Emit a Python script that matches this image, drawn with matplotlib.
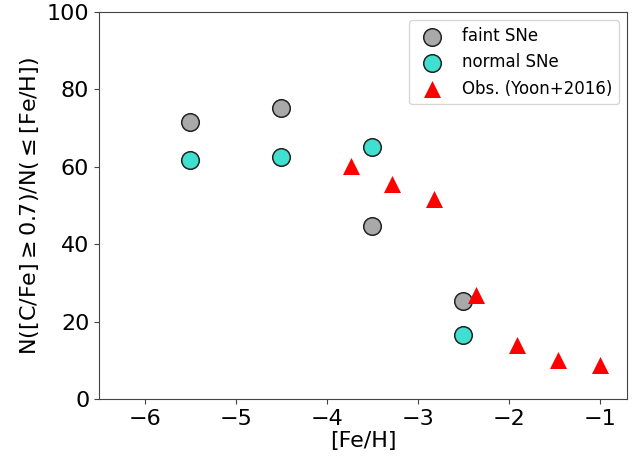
import matplotlib
matplotlib.use("Agg")
import matplotlib.pyplot as plt

# Model predictions at fixed metallicity bins
feh_model = [-5.5, -4.5, -3.5, -2.5]
frac_faint = [71.5, 75.2, 44.6, 25.3]
frac_normal = [61.8, 62.6, 65.0, 16.6]

# Observed cumulative CEMP fractions
feh_obs = [-3.73, -3.28, -2.82, -2.36, -1.91, -1.46, -1.0]
frac_obs = [60.2, 55.6, 51.6, 26.8, 13.9, 10.2, 8.7]

xticks = [-6, -5, -4, -3, -2, -1]
yticks = [0, 20, 40, 60, 80, 100]

fig = plt.figure(figsize=(6.38, 4.62), dpi=100)
ax = fig.add_axes([99 / 638, 1 - 399 / 462, (627.3 - 99) / 638, (399 - 12) / 462])

ax.scatter(feh_model, frac_faint, s=160, c="darkgray", edgecolors="#222222",
           linewidths=1.1, label="faint SNe", zorder=3)
ax.scatter(feh_model, frac_normal, s=160, c="turquoise", edgecolors="#222222",
           linewidths=1.1, label="normal SNe", zorder=3)
ax.scatter(feh_obs, frac_obs, s=150, c="red", marker="^", linewidths=0,
           label="Obs. (Yoon+2016)", zorder=4)

ax.set_xlim(-6.5, -0.7)
ax.set_ylim(0, 100)
ax.set_xticks(xticks)
ax.set_yticks(yticks)
ax.tick_params(labelsize=16, color="#444444")
for sp in ax.spines.values():
    sp.set_color("#444444")

ax.set_xlabel("[Fe/H]", fontsize=16, labelpad=2)
ax.set_ylabel(r"N([C/Fe]$\geq$0.7)/N($\leq$[Fe/H])", fontsize=16)

ax.legend(loc="upper right", fontsize=12)

fig.savefig("out.png", dpi=100)
